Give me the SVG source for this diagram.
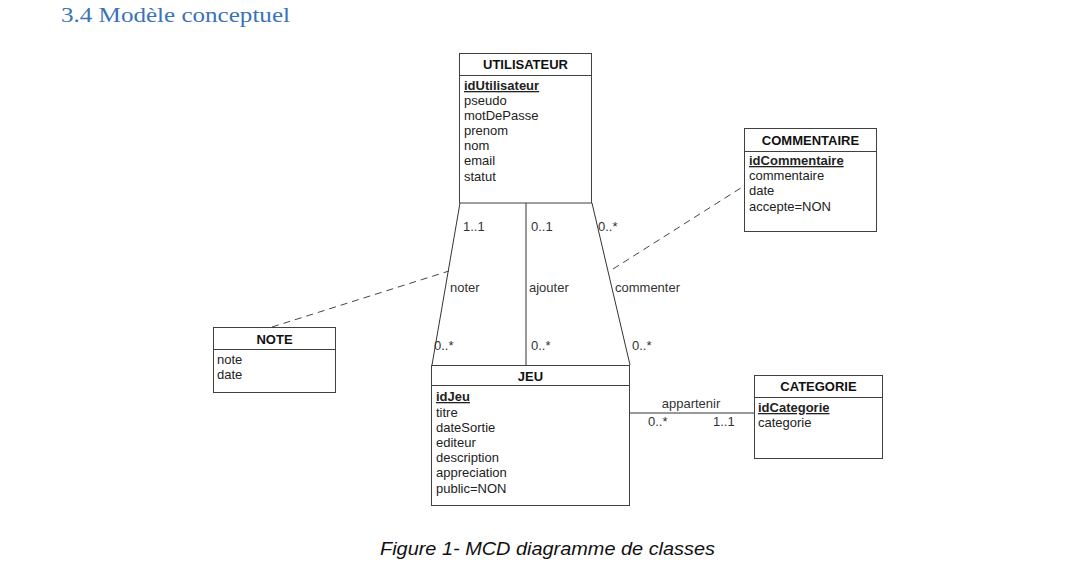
<svg xmlns="http://www.w3.org/2000/svg" width="1092" height="586" viewBox="0 0 1092 586">
<style>
.box{fill:#fff;stroke:#404040;stroke-width:1}
.sep{stroke:#404040;stroke-width:1}
.hd{font-family:"Liberation Sans",Arial,sans-serif;font-size:13px;font-weight:bold;fill:#111;text-anchor:middle}
.at{font-family:"Liberation Sans",Arial,sans-serif;font-size:13px;fill:#222}
.pk{font-weight:bold;text-decoration:underline}
.lb{font-family:"Liberation Sans",Arial,sans-serif;font-size:13px;fill:#333}
.ln{stroke:#333;stroke-width:1;fill:none}
.ds{stroke:#444;stroke-width:1;fill:none;stroke-dasharray:7,5}
</style>
<rect width="1092" height="586" fill="#fff"/>
<text x="61" y="22" font-family="Liberation Serif,serif" font-size="21" fill="#3A73B6" textLength="229" lengthAdjust="spacingAndGlyphs">3.4 Modèle conceptuel</text>

<g id="connectors">
<line class="ln" x1="460" y1="203" x2="432" y2="365"/>
<line class="ln" x1="526" y1="203" x2="526" y2="365"/>
<line class="ln" x1="592" y1="203" x2="630" y2="365"/>
<line class="ln" x1="630" y1="413" x2="754" y2="413"/>
<line class="ds" x1="272" y1="327" x2="449" y2="271"/>
<line class="ds" x1="613" y1="269" x2="744" y2="186"/>
<text class="lb" x="463" y="231">1..1</text>
<text class="lb" x="531" y="231">0..1</text>
<text class="lb" x="598" y="231">0..*</text>
<text class="lb" x="450" y="292">noter</text>
<text class="lb" x="529" y="292">ajouter</text>
<text class="lb" x="615" y="292">commenter</text>
<text class="lb" x="434" y="350">0..*</text>
<text class="lb" x="531" y="350">0..*</text>
<text class="lb" x="632" y="350">0..*</text>
<text class="lb" x="691" y="408" text-anchor="middle">appartenir</text>
<text class="lb" x="648" y="426">0..*</text>
<text class="lb" x="713" y="426">1..1</text>
</g>

<g id="utilisateur">
<rect class="box" x="459.5" y="53.5" width="132" height="149.5"/>
<line class="sep" x1="459.5" y1="75.5" x2="591.5" y2="75.5"/>
<text class="hd" x="525.5" y="69">UTILISATEUR</text>
<text class="at pk" x="464" y="90">idUtilisateur</text>
<text class="at" x="464" y="105">pseudo</text>
<text class="at" x="464" y="120">motDePasse</text>
<text class="at" x="464" y="135">prenom</text>
<text class="at" x="464" y="150">nom</text>
<text class="at" x="464" y="165">email</text>
<text class="at" x="464" y="181">statut</text>
</g>

<g id="commentaire">
<rect class="box" x="744.5" y="128.5" width="132" height="103"/>
<line class="sep" x1="744.5" y1="151.5" x2="876.5" y2="151.5"/>
<text class="hd" x="810.5" y="145">COMMENTAIRE</text>
<text class="at pk" x="749" y="165">idCommentaire</text>
<text class="at" x="749" y="180">commentaire</text>
<text class="at" x="749" y="195">date</text>
<text class="at" x="749" y="211">accepte=NON</text>
</g>

<g id="note">
<rect class="box" x="213.5" y="327.5" width="122" height="65"/>
<line class="sep" x1="213.5" y1="349.5" x2="335.5" y2="349.5"/>
<text class="hd" x="274.5" y="344">NOTE</text>
<text class="at" x="217" y="364">note</text>
<text class="at" x="217" y="379">date</text>
</g>

<g id="jeu">
<rect class="box" x="431.5" y="365.5" width="198" height="140"/>
<line class="sep" x1="431.5" y1="385.5" x2="629.5" y2="385.5"/>
<text class="hd" x="530.5" y="381">JEU</text>
<text class="at pk" x="436" y="401">idJeu</text>
<text class="at" x="436" y="417">titre</text>
<text class="at" x="436" y="432">dateSortie</text>
<text class="at" x="436" y="447">editeur</text>
<text class="at" x="436" y="462">description</text>
<text class="at" x="436" y="477">appreciation</text>
<text class="at" x="436" y="493">public=NON</text>
</g>

<g id="categorie">
<rect class="box" x="754.5" y="375.5" width="128" height="83"/>
<line class="sep" x1="754.5" y1="397.5" x2="882.5" y2="397.5"/>
<text class="hd" x="818.5" y="391">CATEGORIE</text>
<text class="at pk" x="758" y="412">idCategorie</text>
<text class="at" x="758" y="427">categorie</text>
</g>

<text x="380" y="555" font-family="Liberation Sans,Arial,sans-serif" font-size="18" font-style="italic" fill="#111" textLength="335" lengthAdjust="spacingAndGlyphs">Figure 1- MCD diagramme de classes</text>
</svg>
